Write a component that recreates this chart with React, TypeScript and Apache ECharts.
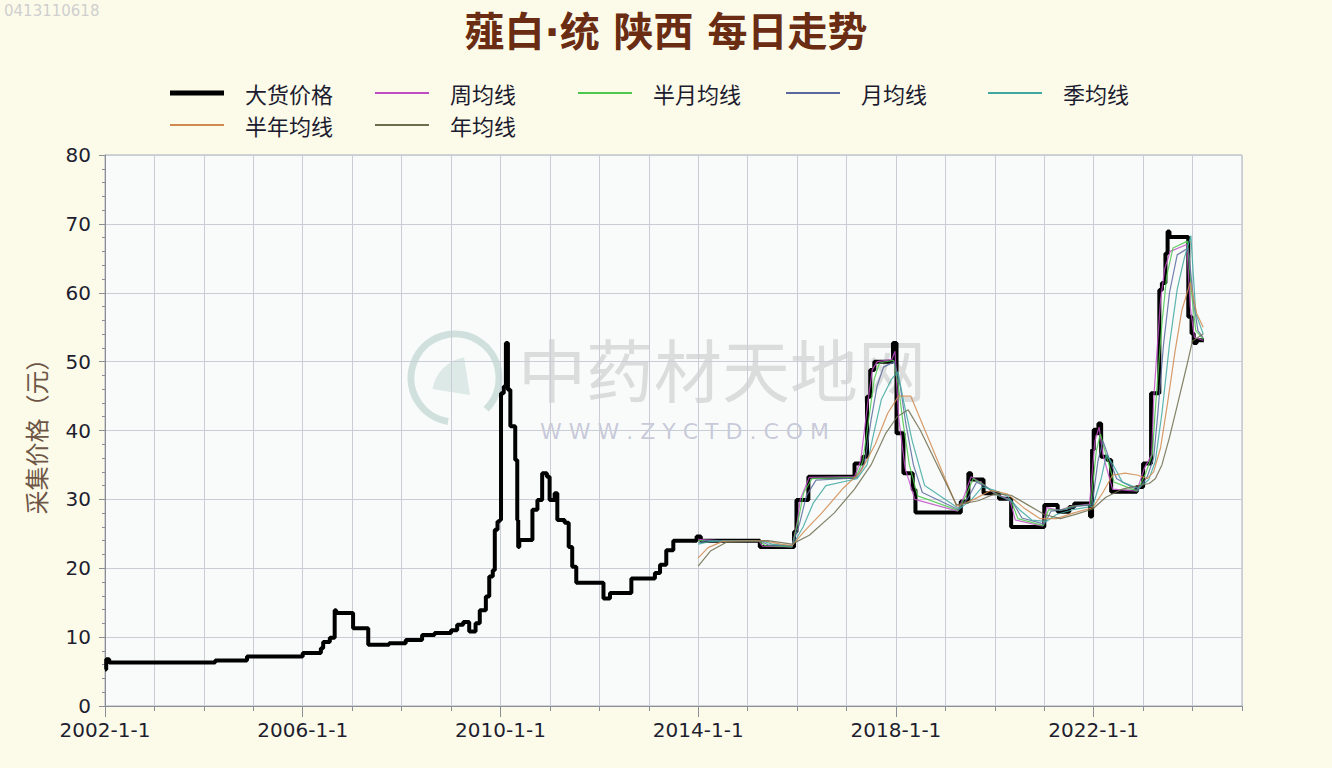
import React, { useEffect, useRef } from "react";
import * as echarts from "echarts";

// ---------- data ----------
const TITLE = "薤白·统 陕西 每日走势";
const Y_NAME = "采集价格（元）";
const SERIES_NAMES = ["大货价格", "周均线", "半月均线", "月均线", "季均线", "半年均线", "年均线"];
const SERIES_COLORS = ["#000000", "#c04cc4", "#4cc84c", "#5a689e", "#3fa8a0", "#d0894f", "#6e6c4c"];
const X_LABEL_YEARS = [2002, 2006, 2010, 2014, 2018, 2022];

// 大货价格 (step: value holds from the date on)
const priceBulk: [string, number][] = [
  ["2002-01-01", 5.3], ["2002-01-10", 6.8], ["2002-02-01", 6.3], ["2004-03-25", 6.6],
  ["2004-11-15", 7.2], ["2006-01-01", 7.7], ["2006-05-15", 8.4], ["2006-06-01", 9.3],
  ["2006-07-20", 9.9], ["2006-08-25", 13.9], ["2006-09-05", 13.5], ["2007-01-08", 11.3],
  ["2007-04-30", 8.9], ["2007-10-01", 9.1], ["2008-02-01", 9.6], ["2008-06-01", 10.3],
  ["2008-09-01", 10.6], ["2009-01-01", 11.0], ["2009-02-15", 11.8], ["2009-04-01", 12.2],
  ["2009-05-15", 10.8], ["2009-07-01", 12.0], ["2009-08-01", 13.9], ["2009-09-15", 15.9],
  ["2009-10-10", 18.8], ["2009-11-05", 19.7], ["2009-11-20", 25.6], ["2009-12-10", 26.8],
  ["2009-12-25", 27.0], ["2010-01-05", 45.4], ["2010-01-25", 46.4], ["2010-02-10", 52.7],
  ["2010-02-25", 45.9], ["2010-03-15", 40.6], ["2010-04-20", 35.7], ["2010-05-05", 27.0],
  ["2010-05-12", 23.1], ["2010-05-20", 24.1], ["2010-08-25", 28.5], ["2010-10-01", 29.9],
  ["2010-11-05", 33.8], ["2010-12-10", 33.3], ["2010-12-30", 29.9], ["2011-02-05", 30.9],
  ["2011-02-25", 27.0], ["2011-04-20", 26.6], ["2011-05-20", 23.1], ["2011-06-15", 20.2],
  ["2011-07-15", 17.9], ["2012-02-01", 15.6], ["2012-03-20", 16.4], ["2012-08-25", 18.5],
  ["2013-02-15", 19.3], ["2013-03-25", 20.5], ["2013-05-10", 22.6], ["2013-07-01", 24.0],
  ["2013-12-20", 24.6], ["2014-01-20", 24.0], ["2015-04-01", 23.1], ["2015-12-10", 25.3],
  ["2015-12-28", 29.9], ["2016-03-25", 33.3], ["2017-03-01", 35.2], ["2017-05-01", 36.2],
  ["2017-06-01", 44.9], ["2017-06-25", 48.8], ["2017-07-25", 50.0], ["2017-12-10", 52.7],
  ["2018-01-05", 39.6], ["2018-02-25", 33.8], ["2018-05-05", 31.4], ["2018-05-25", 28.1],
  ["2019-04-25", 29.7], ["2019-06-20", 33.8], ["2019-07-10", 32.9], ["2019-10-10", 30.9],
  ["2020-02-01", 30.1], ["2020-05-01", 26.0], ["2021-01-01", 29.2], ["2021-04-10", 28.2],
  ["2021-07-05", 28.9], ["2021-08-10", 29.4], ["2021-12-05", 27.5], ["2021-12-20", 37.2],
  ["2022-01-01", 40.1], ["2022-01-20", 39.6], ["2022-02-05", 41.0], ["2022-02-25", 36.2],
  ["2022-04-10", 35.7], ["2022-05-10", 31.1], ["2022-11-15", 31.8], ["2023-01-01", 35.2],
  ["2023-03-01", 45.4], ["2023-05-01", 60.4], ["2023-05-20", 61.4], ["2023-06-15", 65.7],
  ["2023-07-01", 68.9], ["2023-07-15", 68.1], ["2023-12-01", 56.5], ["2023-12-25", 54.1],
  ["2024-01-10", 52.7], ["2024-02-01", 53.1], ["2024-03-25", 53.1],
];

const maWeek: [string, number][] = [
  ["2014-01-01", 24.2], ["2014-06-01", 24.0], ["2015-03-25", 24.0], ["2015-04-20", 23.2],
  ["2015-11-25", 23.1], ["2016-01-01", 26.5], ["2016-01-25", 30.0], ["2016-04-01", 33.2],
  ["2017-03-01", 33.3], ["2017-04-15", 35.6], ["2017-06-10", 44.5], ["2017-07-10", 48.8],
  ["2017-08-15", 50.0], ["2017-12-01", 50.3], ["2017-12-25", 51.5], ["2018-01-20", 42.0],
  ["2018-03-10", 34.5], ["2018-05-20", 30.0], ["2019-04-01", 28.3], ["2019-05-20", 30.5],
  ["2019-07-10", 33.3], ["2019-10-01", 32.3], ["2020-01-01", 30.8], ["2020-04-20", 30.0],
  ["2020-06-01", 27.0], ["2020-12-20", 26.1], ["2021-01-20", 28.8], ["2021-04-20", 28.4],
  ["2021-07-20", 29.0], ["2021-12-01", 29.3], ["2022-01-10", 38.5], ["2022-02-10", 40.5],
  ["2022-03-10", 36.5], ["2022-05-20", 31.5], ["2022-11-15", 31.2], ["2023-01-10", 34.5],
  ["2023-03-05", 36.5], ["2023-03-20", 44.5], ["2023-05-10", 59.0], ["2023-06-10", 63.5],
  ["2023-07-20", 66.0], ["2023-11-20", 67.0], ["2023-12-15", 58.0], ["2024-01-15", 53.5],
  ["2024-03-20", 53.1],
];

const maHalfMonth: [string, number][] = [
  ["2014-01-01", 24.0], ["2015-03-25", 24.0], ["2015-05-10", 23.3], ["2015-11-25", 23.1],
  ["2016-01-10", 27.0], ["2016-02-20", 31.0], ["2016-04-20", 33.0], ["2017-03-10", 33.2],
  ["2017-05-01", 35.5], ["2017-06-20", 42.5], ["2017-07-25", 47.5], ["2017-09-01", 49.8],
  ["2017-12-15", 50.2], ["2018-01-15", 47.0], ["2018-02-20", 41.5], ["2018-04-10", 35.0],
  ["2018-06-10", 30.5], ["2019-04-05", 28.4], ["2019-06-01", 30.5], ["2019-07-25", 33.0],
  ["2019-10-20", 32.0], ["2020-01-20", 30.6], ["2020-05-01", 29.8], ["2020-06-20", 27.2],
  ["2020-12-25", 26.2], ["2021-02-01", 28.5], ["2021-05-01", 28.4], ["2021-08-01", 29.0],
  ["2021-12-10", 29.2], ["2022-01-20", 37.0], ["2022-02-20", 39.5], ["2022-03-25", 37.0],
  ["2022-06-01", 32.5], ["2022-11-20", 31.2], ["2023-01-20", 33.8], ["2023-03-10", 36.5],
  ["2023-04-01", 43.0], ["2023-05-20", 55.5], ["2023-06-25", 62.5], ["2023-08-10", 66.5],
  ["2023-11-25", 67.5], ["2023-12-25", 60.0], ["2024-01-25", 54.5], ["2024-03-20", 53.3],
];

const maMonth: [string, number][] = [
  ["2014-01-01", 23.7], ["2014-03-01", 24.0], ["2015-04-01", 24.0], ["2015-06-01", 23.4],
  ["2015-11-25", 23.2], ["2016-01-20", 26.5], ["2016-03-10", 30.5], ["2016-05-20", 32.8],
  ["2017-03-15", 33.1], ["2017-05-15", 35.3], ["2017-07-01", 41.5], ["2017-08-15", 46.5],
  ["2017-10-01", 49.2], ["2017-12-20", 50.0], ["2018-02-01", 46.5], ["2018-03-15", 41.0],
  ["2018-05-10", 35.0], ["2018-07-15", 31.0], ["2019-04-10", 28.5], ["2019-06-20", 30.3],
  ["2019-08-20", 32.5], ["2019-11-01", 31.8], ["2020-02-10", 30.5], ["2020-05-15", 29.5],
  ["2020-07-20", 27.3], ["2021-01-01", 26.4], ["2021-02-20", 28.3], ["2021-06-01", 28.5],
  ["2021-09-01", 29.0], ["2021-12-20", 29.2], ["2022-02-01", 35.5], ["2022-03-10", 38.5],
  ["2022-04-20", 36.2], ["2022-06-20", 33.0], ["2022-11-25", 31.3], ["2023-02-01", 33.3],
  ["2023-03-20", 36.0], ["2023-04-20", 42.5], ["2023-06-01", 52.5], ["2023-07-15", 60.0],
  ["2023-09-10", 65.5], ["2023-12-01", 66.5], ["2024-01-10", 58.5], ["2024-02-10", 54.5],
  ["2024-03-20", 53.5],
];

const maQuarter: [string, number][] = [
  ["2014-01-01", 23.5], ["2014-04-01", 23.9], ["2015-04-15", 24.0], ["2015-07-01", 23.5],
  ["2015-11-25", 23.2], ["2016-02-15", 26.0], ["2016-05-01", 29.5], ["2016-08-01", 32.0],
  ["2017-03-20", 33.0], ["2017-06-01", 35.0], ["2017-07-20", 39.5], ["2017-09-15", 44.5],
  ["2017-12-01", 47.5], ["2018-01-15", 48.5], ["2018-03-01", 44.0], ["2018-05-01", 38.5],
  ["2018-08-01", 32.0], ["2019-04-15", 28.6], ["2019-07-15", 30.0], ["2019-10-01", 31.8],
  ["2020-01-01", 31.3], ["2020-04-01", 30.5], ["2020-07-01", 28.5], ["2020-10-01", 27.0],
  ["2021-01-15", 26.8], ["2021-04-01", 27.8], ["2021-08-01", 28.5], ["2021-12-25", 29.0],
  ["2022-02-25", 33.0], ["2022-04-05", 36.5], ["2022-05-25", 35.0], ["2022-08-01", 32.5],
  ["2022-11-25", 31.6], ["2023-02-10", 32.8], ["2023-04-01", 35.5], ["2023-05-20", 42.5],
  ["2023-07-15", 52.5], ["2023-09-10", 60.5], ["2023-11-01", 65.0], ["2023-12-20", 68.3],
  ["2024-01-25", 57.0], ["2024-03-20", 54.0],
];

const maHalfYear: [string, number][] = [
  ["2014-01-01", 21.5], ["2014-03-15", 23.0], ["2014-07-01", 23.9], ["2015-05-01", 24.0],
  ["2015-09-01", 23.5], ["2015-11-25", 23.3], ["2016-03-01", 25.5], ["2016-07-01", 28.0],
  ["2016-12-01", 31.5], ["2017-04-15", 34.0], ["2017-08-01", 38.0], ["2017-11-01", 42.5],
  ["2018-01-20", 45.0], ["2018-04-20", 45.0], ["2019-03-25", 29.0], ["2019-08-01", 30.0],
  ["2019-12-01", 31.3], ["2020-04-01", 30.8], ["2020-08-01", 28.8], ["2020-12-01", 27.2],
  ["2021-04-01", 27.2], ["2021-08-01", 28.0], ["2021-12-25", 28.8], ["2022-03-10", 31.0],
  ["2022-05-20", 33.5], ["2022-08-20", 33.8], ["2022-11-25", 33.5], ["2023-02-01", 33.0],
  ["2023-03-20", 34.0], ["2023-05-10", 37.5], ["2023-07-01", 44.0], ["2023-08-25", 51.5],
  ["2023-10-15", 57.5], ["2023-12-15", 61.5], ["2024-02-01", 57.0], ["2024-03-20", 55.0],
];

const maYear: [string, number][] = [
  ["2014-01-01", 20.3], ["2014-04-01", 22.5], ["2014-08-01", 23.8], ["2015-06-01", 24.0],
  ["2015-11-25", 23.5], ["2016-04-01", 24.8], ["2016-10-01", 28.0], ["2017-03-01", 31.5],
  ["2017-07-01", 35.0], ["2017-10-15", 39.5], ["2018-01-10", 42.0], ["2018-04-01", 43.0],
  ["2018-07-01", 40.0], ["2019-03-25", 29.2], ["2019-09-01", 29.8], ["2020-01-01", 30.8],
  ["2020-05-01", 30.6], ["2020-09-01", 29.2], ["2021-01-01", 27.8], ["2021-05-01", 27.2],
  ["2021-09-01", 27.9], ["2021-12-25", 28.6], ["2022-04-01", 30.3], ["2022-08-01", 31.5],
  ["2022-11-25", 32.0], ["2023-02-15", 32.3], ["2023-04-01", 33.0], ["2023-05-20", 35.0],
  ["2023-07-15", 39.0], ["2023-09-15", 44.0], ["2023-11-15", 49.0], ["2024-01-01", 53.0],
  ["2024-03-20", 54.0],
];

const ALL_DATA = [priceBulk, maWeek, maHalfMonth, maMonth, maQuarter, maHalfYear, maYear];

// ---------- helpers ----------
const YEAR_MS = 365.25 * 24 * 3600 * 1000; // 1970-01-01 + n*YEAR_MS lands on Jan 1 every 4 years
const toPoint = ([d, v]: [string, number]) => [Date.parse(d), v];
const yearOf = (v: number) => Math.round(v / YEAR_MS) + 1970;

// legend placement (px)
const LEGEND_POS = [
  [170, 81], [375, 81], [578, 81], [786, 81], [988, 81],
  [170, 113], [375, 113],
];

export default function App() {
  const ref = useRef<HTMLDivElement>(null);

  useEffect(() => {
    document.body.style.margin = "0";
    const chart = echarts.init(ref.current!, undefined, { renderer: "svg" });
    const xMin = Date.UTC(2002, 0, 1);
    const xMax = 55 * YEAR_MS;
    const font = "'DejaVu Sans', sans-serif";
    const cjk = "'Noto Sans CJK SC', sans-serif";

    const series: any[] = SERIES_NAMES.map((name, i) => ({
      name,
      type: "line",
      step: i === 0 ? "end" : undefined,
      symbol: "none",
      z: i === 0 ? 3 : 4,
      data: ALL_DATA[i].map(toPoint),
      itemStyle: { color: SERIES_COLORS[i] },
      lineStyle: { color: SERIES_COLORS[i], width: i === 0 ? 4 : 1.2, opacity: i === 0 ? 1 : 0.85 },
    }));

    const legends = SERIES_NAMES.map((name, i) => ({
      data: [name],
      left: LEGEND_POS[i][0],
      top: LEGEND_POS[i][1],
      padding: 0,
      icon: "rect",
      itemWidth: 54,
      itemHeight: i === 0 ? 5 : 2,
      selectedMode: false,
      textStyle: {
        fontFamily: cjk,
        fontSize: 22,
        lineHeight: 24,
        color: "#1c1c30",
        padding: [0, 0, 0, 16],
      },
    }));

    const labelTicks = X_LABEL_YEARS.map((y) => Date.UTC(y, 0, 1));

    chart.setOption({
      animation: false,
      backgroundColor: "#fcfbe9",
      title: {
        text: TITLE,
        left: "center",
        top: 7,
        textStyle: {
          fontFamily: "'DejaVu Sans', 'Noto Sans CJK SC', sans-serif",
          fontSize: 40,
          fontWeight: "bold",
          color: "#6a2c12",
        },
      },
      legend: legends,
      grid: {
        left: 105,
        right: 90,
        top: 155,
        bottom: 62,
        show: true,
        backgroundColor: "#f9fbfb",
        borderColor: "#a8acb4",
        borderWidth: 1,
      },
      graphic: [
        {
          type: "text",
          left: 4,
          top: 3,
          z: 1,
          style: { text: "0413110618", fill: "#cfcfcf", font: "15px 'DejaVu Sans'" },
        },
        {
          type: "group",
          z: 1,
          silent: true,
          children: [
            {
              type: "arc",
              shape: { cx: 455, cy: 378, r: 44, startAngle: Math.PI * 0.55, endAngle: Math.PI * 2.25 },
              style: { stroke: "rgba(120,170,160,0.32)", lineWidth: 7, fill: "none" },
            },
            {
              type: "sector",
              shape: { cx: 470, cy: 395, r0: 0, r: 38, startAngle: Math.PI * 1.05, endAngle: Math.PI * 1.45 },
              style: { fill: "rgba(120,170,160,0.22)" },
            },
            {
              type: "text",
              x: 518,
              y: 333,
              style: { text: "中药材天地网", font: "68px 'Noto Sans CJK SC'", fill: "rgba(150,150,150,0.30)" },
            },
            {
              type: "text",
              x: 540,
              y: 420,
              style: { text: "W W W . Z Y C T D . C O M", font: "22px 'DejaVu Sans'", fill: "rgba(140,140,175,0.45)" },
            },
          ],
        },
      ],
      xAxis: [
        {
          type: "value",
          min: xMin,
          max: xMax,
          interval: YEAR_MS,
          axisLine: { show: true, lineStyle: { color: "#8a8e96" } },
          axisTick: { show: true, length: 5, lineStyle: { color: "#8a8e96" } },
          splitLine: { show: true, lineStyle: { color: "#c9cdd5", width: 1 } },
          axisLabel: {
            margin: 14,
            fontFamily: font,
            fontSize: 20,
            color: "#1e1e30",
            formatter: (v: number) => {
              const y = yearOf(v);
              return X_LABEL_YEARS.includes(y) ? `${y}-1-1` : "";
            },
          },
        },
        {
          type: "value",
          position: "bottom",
          min: xMin,
          max: xMax,
          interval: 4 * YEAR_MS,
          axisLine: { show: false },
          axisTick: { show: true, length: 11, customValues: labelTicks, lineStyle: { color: "#8a8e96" } },
          splitLine: { show: false },
          axisLabel: { show: false },
        },
      ],
      yAxis: {
        type: "value",
        min: 0,
        max: 80,
        interval: 10,
        name: Y_NAME,
        nameLocation: "middle",
        nameRotate: 90,
        nameGap: 58,
        nameTextStyle: { fontFamily: cjk, fontSize: 24, color: "#6e5646" },
        axisLine: { show: true, lineStyle: { color: "#8a8e96" } },
        axisTick: { show: true, length: 6, lineStyle: { color: "#8a8e96" } },
        minorTick: { show: true, splitNumber: 5, length: 3, lineStyle: { color: "#8a8e96" } },
        splitLine: { show: true, lineStyle: { color: "#c9cdd5", width: 1 } },
        axisLabel: { margin: 14, fontFamily: font, fontSize: 20, color: "#1e1e30" },
      },
      series,
    });
    return () => chart.dispose();
  }, []);

  return (
    <div
      ref={ref}
      style={{ position: "fixed", left: 0, top: 0, width: 1332, height: 768 }}
    />
  );
}
